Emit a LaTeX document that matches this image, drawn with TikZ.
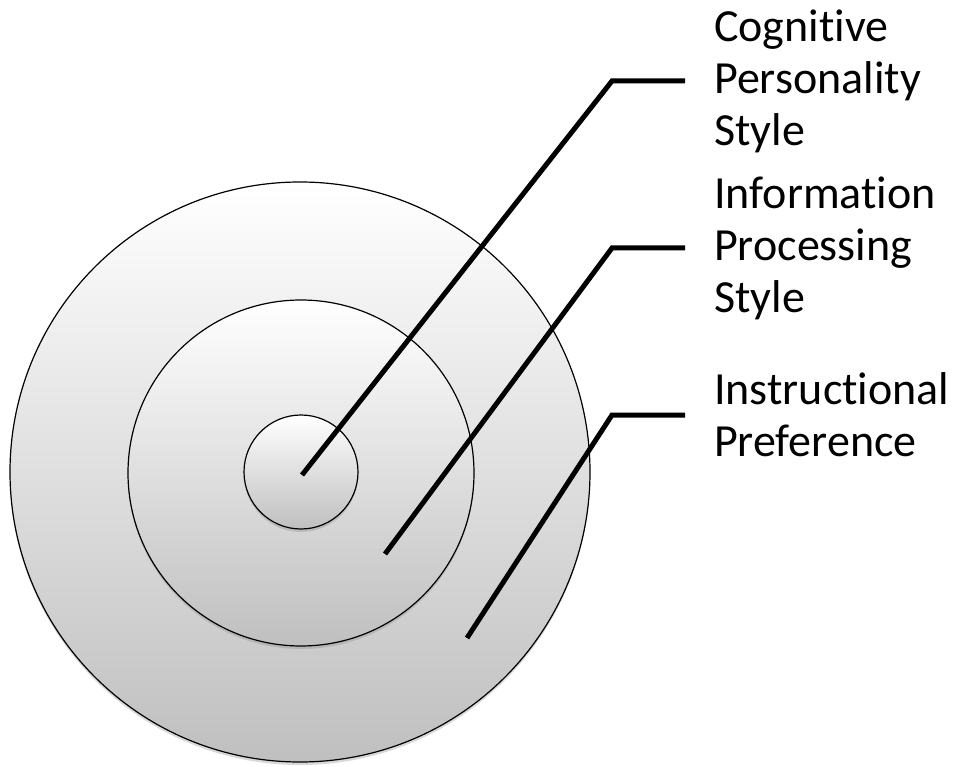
\documentclass[tikz,border=0pt]{standalone}
\usepackage{fontspec}
\setmainfont{Carlito}
\usetikzlibrary{shadows}
\tikzset{
  ring/.style={draw=black,line width=1.2pt,top color=white,bottom color=black!25,
    drop shadow={shadow xshift=0pt,shadow yshift=-3pt,opacity=0.3}},
  leader/.style={line width=5pt,line join=miter},
  lbl/.style={anchor=west,inner sep=0pt,align=left,font=\fontsize{46}{52}\selectfont}
}
\begin{document}
\begin{tikzpicture}[x=1pt,y=-1pt]
\useasboundingbox (0,0) rectangle (959,767);
\draw[ring](300,472) circle (290);
\draw[ring](301,473) circle (173);
\draw[ring](301,472) circle (57);
\coordinate (p1) at (302,475);
\coordinate (p2) at (385,554);
\coordinate (p3) at (467,638);
\coordinate (k1) at (612,81);
\coordinate (k2) at (612,248);
\coordinate (k3) at (612,415);
% \kern0pt keeps t and i apart (no ligature)
\node[lbl] (cps) at (714,81) {Cognit\kern0pt ive\\Personality\\Style};
\node[lbl] (ips) at (714,248) {Informat\kern0pt ion\\Processing\\Style};
\node[lbl] (ip) at (714,415) {Instruct\kern0pt ional\\Preference};
\draw[leader,shorten >=29pt](p1)--(k1)--(cps.west);
\draw[leader,shorten >=29pt](p2)--(k2)--(ips.west);
\draw[leader,shorten >=29pt](p3)--(k3)--(ip.west);
\end{tikzpicture}
\end{document}
